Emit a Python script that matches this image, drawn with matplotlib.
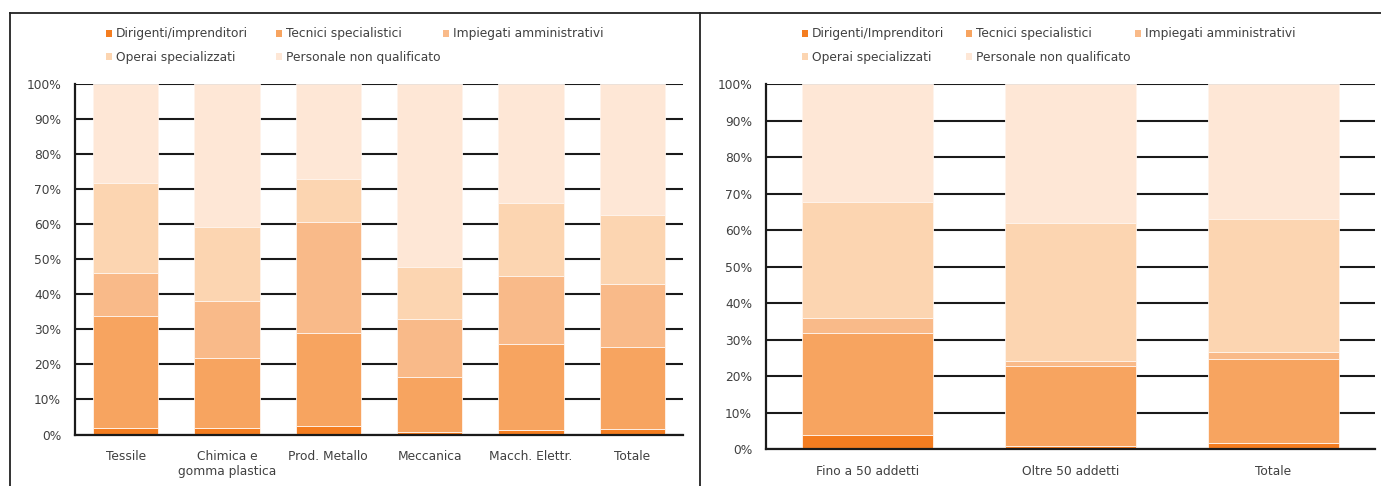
import matplotlib
matplotlib.use("Agg")
import matplotlib.pyplot as plt
from matplotlib.patches import Patch
from matplotlib.lines import Line2D
from matplotlib.ticker import FuncFormatter

# ---- data -------------------------------------------------------------
settori = ["Tessile", "Chimica e\ngomma plastica", "Prod. Metallo",
           "Meccanica", "Macch. Elettr.", "Totale"]
dirigenti_settore = [1.9, 1.9, 2.5, 0.8, 1.3, 1.6]
tecnici_settore = [31.8, 20.0, 26.5, 15.7, 24.6, 23.4]
impiegati_settore = [12.4, 16.3, 31.7, 16.5, 19.4, 18.0]
operai_settore = [25.7, 21.0, 12.3, 14.8, 20.8, 19.6]
non_qualificato_settore = [28.2, 40.8, 27.0, 52.2, 33.9, 37.4]

dimensioni = ["Fino a 50 addetti", "Oltre 50 addetti", "Totale"]
dirigenti_dim = [3.8, 1.0, 1.6]
tecnici_dim = [28.1, 21.9, 23.2]
impiegati_dim = [4.0, 1.3, 1.7]
operai_dim = [31.8, 37.8, 36.6]
non_qualificato_dim = [32.3, 38.0, 36.9]

labels_settore = ["Dirigenti/imprenditori", "Tecnici specialistici",
                  "Impiegati amministrativi", "Operai specializzati",
                  "Personale non qualificato"]
labels_dim = ["Dirigenti/Imprenditori", "Tecnici specialistici",
              "Impiegati amministrativi", "Operai specializzati",
              "Personale non qualificato"]

colors = ["#F47D20", "#F7A460", "#F9BA89", "#FCD5B1", "#FEE7D6"]
text_color = "#404040"
line_color = "#1a1a1a"
FS = 8.8

W, H = 1381, 486
fig = plt.figure(figsize=(W / 100, H / 100), dpi=100)
fig.patch.set_facecolor("white")


def px_axes(x0, x1, y_top, y_bottom):
    return fig.add_axes([x0 / W, 1 - y_bottom / H, (x1 - x0) / W, (y_bottom - y_top) / H])


def stacked(ax, cats, series):
    xs = list(range(len(cats)))
    bottom = [0.0] * len(cats)
    for vals, col in zip(series, colors):
        ax.bar(xs, vals, width=0.645, bottom=bottom, color=col,
               edgecolor="#FFF4EC", linewidth=0.6, zorder=2)
        bottom = [b + v for b, v in zip(bottom, vals)]
    ax.set_xlim(-0.5, len(cats) - 0.5)
    ax.set_ylim(0, 100)
    ax.set_yticks(range(0, 101, 10))
    ax.yaxis.set_major_formatter(FuncFormatter(lambda v, p: f"{int(v)}%"))
    ax.set_xticks(xs)
    ax.set_xticklabels(cats)
    ax.tick_params(axis="both", length=0, labelsize=FS, colors=text_color)
    ax.tick_params(axis="y", pad=10)
    ax.tick_params(axis="x", pad=11)
    ax.set_axisbelow(True)
    ax.yaxis.grid(True, color=line_color, linewidth=1.5)
    for side in ("top", "right"):
        ax.spines[side].set_visible(False)
    for side in ("left", "bottom"):
        ax.spines[side].set_color(line_color)
        ax.spines[side].set_linewidth(1.6)
        ax.spines[side].set_zorder(3)


def legend_grid(labels, col_x, row_y):
    order = [(0, 0), (0, 1), (0, 2), (1, 0), (1, 1)]
    for lab, col, (r, c) in zip(labels, colors, order):
        fig.legend(handles=[Patch(facecolor=col, edgecolor="none")], labels=[lab],
                   loc="center left",
                   bbox_to_anchor=(col_x[c] / W, 1 - row_y[r] / H),
                   bbox_transform=fig.transFigure, frameon=False,
                   borderpad=0, borderaxespad=0, handlelength=0.5,
                   handleheight=0.5, handletextpad=0.3, fontsize=FS,
                   labelcolor=text_color)


ax1 = px_axes(75, 683, 84, 434.5)
stacked(ax1, settori, [dirigenti_settore, tecnici_settore, impiegati_settore,
                       operai_settore, non_qualificato_settore])

ax2 = px_axes(766, 1375, 84, 449.3)
stacked(ax2, dimensioni, [dirigenti_dim, tecnici_dim, impiegati_dim,
                          operai_dim, non_qualificato_dim])

legend_grid(labels_settore, [106, 276, 443], [34, 57])
legend_grid(labels_dim, [802, 966, 1135], [34, 57])

# panel frames
frame_kw = dict(color="#222222", linewidth=1.3, transform=fig.transFigure)
fig.add_artist(Line2D([10 / W, 1.0], [1 - 13 / H, 1 - 13 / H], **frame_kw))
fig.add_artist(Line2D([10 / W, 10 / W], [1 - 13 / H, 0], **frame_kw))
fig.add_artist(Line2D([700 / W, 700 / W], [1 - 13 / H, 0], **frame_kw))

fig.savefig("out.png", dpi=100, facecolor="white")
